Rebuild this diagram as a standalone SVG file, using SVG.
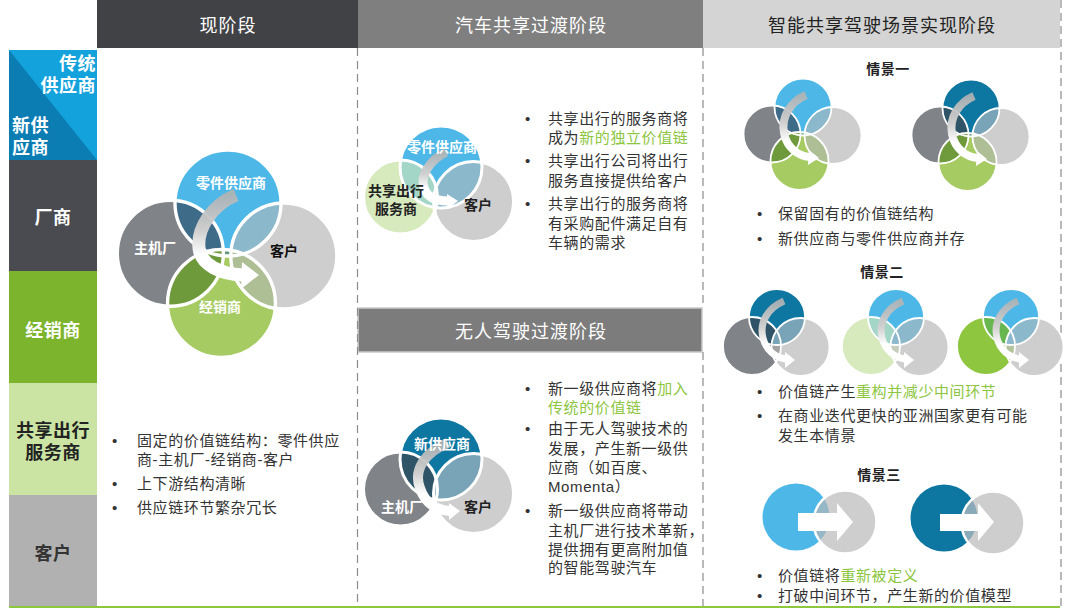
<svg xmlns="http://www.w3.org/2000/svg" width="1080" height="615" viewBox="0 0 1080 615">
<style>
text{font-family:'Liberation Sans','Noto Sans CJK SC',sans-serif;}
.hd{font-size:18px;letter-spacing:1px;text-anchor:middle;}
.lc{font-size:18px;font-weight:bold;letter-spacing:0.5px;}
.mid{text-anchor:middle;}
.bl{font-size:15px;letter-spacing:0.6px;fill:#333;}
.hl{fill:#8dc63f;}
.vl{font-size:14px;font-weight:bold;text-anchor:middle;}
.sc{font-size:14px;font-weight:bold;text-anchor:middle;fill:#222;letter-spacing:0.5px;}
.dash{stroke:#8c8c8c;stroke-width:1.2;stroke-dasharray:8 5;fill:none;}
.ring{fill:none;stroke:#fff;stroke-width:1.8;}
.ring3{fill:none;stroke:#fff;stroke-width:3;}
.arw{fill:none;stroke:url(#ag);}
.ah{fill:#fff;}
.cB{fill:#4db8e8}.cN{fill:#0d76a1}.cA{fill:#808388}.cC{fill:#cecece}.cD{fill:#a7cb63}.cG{fill:#d7eabd}.cE{fill:#8ec640}
</style>
<defs>
<linearGradient id="ag" x1="0" y1="0" x2="0" y2="1">
<stop offset="0" stop-color="#b3b3b3" stop-opacity="0.9"/>
<stop offset="0.45" stop-color="#d0d0d0"/>
<stop offset="0.75" stop-color="#ffffff"/>
<stop offset="1" stop-color="#ffffff"/>
</linearGradient>
<clipPath id="k_qT"><circle cx="0" cy="0" r="28.5"/></clipPath>
<clipPath id="k_qL"><circle cx="-31" cy="27" r="28.5"/></clipPath>
<clipPath id="k_qR"><circle cx="30" cy="28.5" r="28.5"/></clipPath>
<clipPath id="k_tT"><circle cx="0" cy="0" r="41"/></clipPath>
<clipPath id="k_tL"><circle cx="-40.5" cy="30" r="37"/></clipPath>
<clipPath id="k_sT"><circle cx="0" cy="0" r="28"/></clipPath>
<clipPath id="k_sL"><circle cx="-25" cy="29" r="29"/></clipPath>
<clipPath id="k_pL"><circle cx="0" cy="0" r="33.5"/></clipPath>
</defs>

<rect width="1080" height="615" fill="#fff"/>

<!-- headers -->
<g id="header-now">
<rect x="97" y="0" width="261" height="48" fill="#414246"/>
<text class="hd" x="228" y="32" fill="#fff">现阶段</text>
</g>
<g id="header-sharing">
<rect x="358" y="0" width="345" height="48" fill="#7f7f7f"/>
<text class="hd" x="531" y="32" fill="#fff">汽车共享过渡阶段</text>
</g>
<g id="header-smart">
<rect x="703" y="0" width="357" height="48" fill="#d4d4d4"/>
<text class="hd" x="882" y="32" fill="#222">智能共享驾驶场景实现阶段</text>
</g>

<!-- left column -->
<g id="row-supplier">
<rect x="9" y="50" width="88" height="110" fill="#14a2dc"/>
<polygon points="9,50 97,160 9,160" fill="#0b7db3"/>
<text class="lc" x="96" y="70" text-anchor="end" fill="#fff">传统</text>
<text class="lc" x="96" y="92" text-anchor="end" fill="#fff">供应商</text>
<text class="lc" x="12" y="132" fill="#fff">新供</text>
<text class="lc" x="12" y="154" fill="#fff">应商</text>
</g>
<g id="row-oem">
<rect x="9" y="160" width="88" height="111" fill="#4a4b50"/>
<text class="lc mid" x="53" y="224" fill="#fff">厂商</text>
</g>
<g id="row-dealer">
<rect x="9" y="271" width="88" height="112" fill="#7cb42e"/>
<text class="lc mid" x="53" y="337" fill="#fff">经销商</text>
</g>
<g id="row-mobility">
<rect x="9" y="383" width="88" height="112" fill="#cbe4a3"/>
<text class="lc mid" x="53" y="437" fill="#222">共享出行</text>
<text class="lc mid" x="53" y="459" fill="#222">服务商</text>
</g>
<g id="row-customer">
<rect x="9" y="495" width="88" height="111" fill="#b1b1b1"/>
<text class="lc mid" x="53" y="560" fill="#333">客户</text>
</g>

<!-- header for autonomous stage -->
<g id="header-autonomous">
<rect x="358" y="308" width="344" height="44" fill="#7c7c7c" stroke="#c9c9c9" stroke-width="1.5"/>
<text class="hd" x="531" y="338" fill="#fff">无人驾驶过渡阶段</text>
</g>

<!-- dividers -->
<g id="dividers">
<line class="dash" x1="357.5" y1="48" x2="357.5" y2="606"/>
<line class="dash" x1="703" y1="48" x2="703" y2="308"/>
<line class="dash" x1="703" y1="352" x2="703" y2="606"/>
<line class="dash" x1="1061" y1="0" x2="1061" y2="606"/>
<line x1="9" y1="607" x2="1060" y2="607" stroke="#8dc63f" stroke-width="2"/>
</g>

<!-- Venn: current stage -->
<g id="venn-now" transform="translate(228,203) scale(1.86)">
<circle class="cA" cx="-31" cy="27" r="28.5"/>
<circle class="cB" cx="0" cy="0" r="28.5"/>
<circle class="cC" cx="30" cy="28.5" r="28.5"/>
<circle class="cD" cx="-3.5" cy="54" r="29"/>
<circle cx="-31" cy="27" r="28.5" fill="#3e6b87" clip-path="url(#k_qT)"/>
<circle cx="30" cy="28.5" r="28.5" fill="#8cb8cc" clip-path="url(#k_qT)"/>
<circle cx="-3.5" cy="54" r="29" fill="#5e9a7a" clip-path="url(#k_qT)"/>
<circle cx="-3.5" cy="54" r="29" fill="#6f9a3c" clip-path="url(#k_qL)"/>
<circle cx="-3.5" cy="54" r="29" fill="#aebf95" clip-path="url(#k_qR)"/>
<circle class="ring" cx="-31" cy="27" r="28.5"/>
<circle class="ring" cx="0" cy="0" r="28.5"/>
<circle class="ring" cx="30" cy="28.5" r="28.5"/>
<circle class="ring" cx="-3.5" cy="54" r="29"/>
</g>

<!-- Venn: car sharing -->
<g id="venn-sharing" transform="translate(441,167)">
<circle class="cG" cx="-40.5" cy="30" r="37"/>
<circle class="cB" cx="0" cy="0" r="41"/>
<circle class="cC" cx="32.5" cy="34.5" r="40"/>
<circle cx="-40.5" cy="30" r="37" fill="#a3d6c6" clip-path="url(#k_tT)"/>
<circle cx="32.5" cy="34.5" r="40" fill="#c5cdbd" clip-path="url(#k_tL)"/>
<circle cx="32.5" cy="34.5" r="40" fill="#8cb8cc" clip-path="url(#k_tT)"/>
<circle class="ring3" cx="-40.5" cy="30" r="37"/>
<circle class="ring3" cx="0" cy="0" r="41"/>
<circle class="ring3" cx="32.5" cy="34.5" r="40"/>
</g>

<!-- Venn: autonomous -->
<g id="venn-autonomous" transform="translate(441,459)">
<circle class="cA" cx="-40.5" cy="30" r="37"/>
<circle class="cN" cx="0" cy="0" r="41"/>
<circle class="cC" cx="32.5" cy="34.5" r="40"/>
<circle cx="-40.5" cy="30" r="37" fill="#2f5467" clip-path="url(#k_tT)"/>
<circle cx="32.5" cy="34.5" r="40" fill="#a2a3a5" clip-path="url(#k_tL)"/>
<circle cx="32.5" cy="34.5" r="40" fill="#79a4b7" clip-path="url(#k_tT)"/>
<circle class="ring3" cx="-40.5" cy="30" r="37"/>
<circle class="ring3" cx="0" cy="0" r="41"/>
<circle class="ring3" cx="32.5" cy="34.5" r="40"/>
</g>

<!-- Scenario 1 -->
<g id="venn-s1a" transform="translate(803,107)">
<circle class="cA" cx="-31" cy="27" r="28.5"/>
<circle class="cB" cx="0" cy="0" r="28.5"/>
<circle class="cC" cx="30" cy="28.5" r="28.5"/>
<circle class="cD" cx="-3.5" cy="54" r="29"/>
<circle cx="-31" cy="27" r="28.5" fill="#3e6b87" clip-path="url(#k_qT)"/>
<circle cx="30" cy="28.5" r="28.5" fill="#8cb8cc" clip-path="url(#k_qT)"/>
<circle cx="-3.5" cy="54" r="29" fill="#5e9a7a" clip-path="url(#k_qT)"/>
<circle cx="-3.5" cy="54" r="29" fill="#6f9a3c" clip-path="url(#k_qL)"/>
<circle cx="-3.5" cy="54" r="29" fill="#aebf95" clip-path="url(#k_qR)"/>
<circle class="ring" cx="-31" cy="27" r="28.5"/>
<circle class="ring" cx="0" cy="0" r="28.5"/>
<circle class="ring" cx="30" cy="28.5" r="28.5"/>
<circle class="ring" cx="-3.5" cy="54" r="29"/>
</g>
<g id="venn-s1b" transform="translate(971,108)">
<circle class="cA" cx="-31" cy="27" r="28.5"/>
<circle class="cN" cx="0" cy="0" r="28.5"/>
<circle class="cC" cx="30" cy="28.5" r="28.5"/>
<circle class="cD" cx="-3.5" cy="54" r="29"/>
<circle cx="-31" cy="27" r="28.5" fill="#2f5467" clip-path="url(#k_qT)"/>
<circle cx="30" cy="28.5" r="28.5" fill="#79a4b7" clip-path="url(#k_qT)"/>
<circle cx="-3.5" cy="54" r="29" fill="#3f7f6a" clip-path="url(#k_qT)"/>
<circle cx="-3.5" cy="54" r="29" fill="#6f9a3c" clip-path="url(#k_qL)"/>
<circle cx="-3.5" cy="54" r="29" fill="#aebf95" clip-path="url(#k_qR)"/>
<circle class="ring" cx="-31" cy="27" r="28.5"/>
<circle class="ring" cx="0" cy="0" r="28.5"/>
<circle class="ring" cx="30" cy="28.5" r="28.5"/>
<circle class="ring" cx="-3.5" cy="54" r="29"/>
</g>

<!-- Scenario 2 -->
<g id="venn-s2a" transform="translate(777,317)">
<circle class="cA" cx="-25" cy="29" r="29"/>
<circle class="cN" cx="0" cy="0" r="28"/>
<circle class="cC" cx="23.5" cy="30" r="29"/>
<circle cx="-25" cy="29" r="29" fill="#2f5467" clip-path="url(#k_sT)"/>
<circle cx="23.5" cy="30" r="29" fill="#a2a3a5" clip-path="url(#k_sL)"/>
<circle cx="23.5" cy="30" r="29" fill="#79a4b7" clip-path="url(#k_sT)"/>
<circle class="ring" cx="-25" cy="29" r="29"/>
<circle class="ring" cx="0" cy="0" r="28"/>
<circle class="ring" cx="23.5" cy="30" r="29"/>
</g>
<g id="venn-s2b" transform="translate(896,317)">
<circle class="cG" cx="-25" cy="29" r="29"/>
<circle class="cB" cx="0" cy="0" r="28"/>
<circle class="cC" cx="23.5" cy="30" r="29"/>
<circle cx="-25" cy="29" r="29" fill="#a3d6c6" clip-path="url(#k_sT)"/>
<circle cx="23.5" cy="30" r="29" fill="#c5cdbd" clip-path="url(#k_sL)"/>
<circle cx="23.5" cy="30" r="29" fill="#8cb8cc" clip-path="url(#k_sT)"/>
<circle class="ring" cx="-25" cy="29" r="29"/>
<circle class="ring" cx="0" cy="0" r="28"/>
<circle class="ring" cx="23.5" cy="30" r="29"/>
</g>
<g id="venn-s2c" transform="translate(1011,317)">
<circle class="cE" cx="-25" cy="29" r="29"/>
<circle class="cB" cx="0" cy="0" r="28"/>
<circle class="cC" cx="23.5" cy="30" r="29"/>
<circle cx="-25" cy="29" r="29" fill="#67b64f" clip-path="url(#k_sT)"/>
<circle cx="23.5" cy="30" r="29" fill="#b3c49c" clip-path="url(#k_sL)"/>
<circle cx="23.5" cy="30" r="29" fill="#8cb8cc" clip-path="url(#k_sT)"/>
<circle class="ring" cx="-25" cy="29" r="29"/>
<circle class="ring" cx="0" cy="0" r="28"/>
<circle class="ring" cx="23.5" cy="30" r="29"/>
</g>

<!-- Scenario 3 -->
<g id="pair-s3a" transform="translate(796,517)">
<circle class="cB" cx="0" cy="0" r="33.5"/>
<circle class="cC" cx="49" cy="5" r="31.5"/>
<circle cx="49" cy="5" r="31.5" fill="#96b7c6" clip-path="url(#k_pL)"/>
<circle cx="49" cy="5" r="31.5" fill="none" stroke="#fff" stroke-width="2.5"/>
</g>
<g id="pair-s3b" transform="translate(944,518)">
<circle class="cN" cx="0" cy="0" r="33.5"/>
<circle class="cC" cx="49" cy="5" r="31.5"/>
<circle cx="49" cy="5" r="31.5" fill="#8aaab9" clip-path="url(#k_pL)"/>
<circle cx="49" cy="5" r="31.5" fill="none" stroke="#fff" stroke-width="2.5"/>
</g>

<!-- connectors (value-chain arrows) -->
<g id="connectors">
<path class="arw" stroke-width="13" d="M236,195 C212,205 197,228 199,248 C201,265 220,274 243,275"/>
<polygon class="ah" points="242,262 259,275 241,289"/>
<path class="arw" stroke-width="9" d="M446,152 C430,160 420,175 424,188 C427,197 436,201 448,201"/>
<polygon class="ah" points="447,194 458,201 447,209"/>
<path class="arw" stroke-width="10" d="M448,443 C425,452 413,470 420,488 C425,503 436,510 450,511"/>
<polygon class="ah" points="449,503 460,511 449,520"/>
<g transform="translate(803,107)">
<path class="arw" stroke-width="8" d="M3,-12 C-13,-5 -22,10 -19,26 C-16,41 -5,49 7,50"/>
<polygon class="ah" points="6,43 16,51 5,58"/>
</g>
<g transform="translate(971,108)">
<path class="arw" stroke-width="8" d="M3,-12 C-13,-5 -22,10 -19,26 C-16,41 -5,49 7,50"/>
<polygon class="ah" points="6,43 16,51 5,58"/>
</g>
<g transform="translate(777,317)">
<path class="arw" stroke-width="7" d="M7,-16 C-9,-9 -18,5 -14,21 C-11,33 -2,40 9,42"/>
<polygon class="ah" points="8,35 18,43 8,51"/>
</g>
<g transform="translate(896,317)">
<path class="arw" stroke-width="7" d="M7,-16 C-9,-9 -18,5 -14,21 C-11,33 -2,40 9,42"/>
<polygon class="ah" points="8,35 18,43 8,51"/>
</g>
<g transform="translate(1011,317)">
<path class="arw" stroke-width="7" d="M7,-16 C-9,-9 -18,5 -14,21 C-11,33 -2,40 9,42"/>
<polygon class="ah" points="8,35 18,43 8,51"/>
</g>
<polygon class="ah" points="798,513 837,513 837,503 853,522 837,541 837,531 798,531"/>
<polygon class="ah" points="940,514 978,514 978,503 994,522 978,541 978,531 940,531"/>
</g>

<!-- Venn labels -->
<g id="labels-now">
<text class="vl" x="231" y="188" fill="#fff">零件供应商</text>
<text class="vl" x="155" y="253" fill="#fff">主机厂</text>
<text class="vl" x="284" y="256" fill="#111">客户</text>
<text class="vl" x="220" y="312" fill="#fff">经销商</text>
</g>
<g id="labels-sharing">
<text class="vl" x="442" y="152" fill="#fff">零件供应商</text>
<text class="vl" x="396" y="196" fill="#222">共享出行</text>
<text class="vl" x="396" y="214" fill="#222">服务商</text>
<text class="vl" x="478" y="210" fill="#222">客户</text>
</g>
<g id="labels-autonomous">
<text class="vl" x="442" y="449" fill="#fff">新供应商</text>
<text class="vl" x="402" y="512" fill="#fff">主机厂</text>
<text class="vl" x="478" y="512" fill="#222">客户</text>
</g>

<!-- bullets: current stage -->
<g id="notes-now">
<text class="bl" x="112" y="446">•</text>
<text class="bl" x="137" y="446">固定的价值链结构：零件供应</text>
<text class="bl" x="137" y="465">商-主机厂-经销商-客户</text>
<text class="bl" x="112" y="489">•</text>
<text class="bl" x="137" y="489">上下游结构清晰</text>
<text class="bl" x="112" y="513">•</text>
<text class="bl" x="137" y="513">供应链环节繁杂冗长</text>
</g>

<!-- bullets: car sharing -->
<g id="notes-sharing">
<text class="bl" x="525" y="124">•</text>
<text class="bl" x="548" y="124">共享出行的服务商将</text>
<text class="bl" x="548" y="143">成为<tspan class="hl">新的独立价值链</tspan></text>
<text class="bl" x="525" y="166">•</text>
<text class="bl" x="548" y="166">共享出行公司将出行</text>
<text class="bl" x="548" y="186">服务直接提供给客户</text>
<text class="bl" x="525" y="209">•</text>
<text class="bl" x="548" y="209">共享出行的服务商将</text>
<text class="bl" x="548" y="229">有采购配件满足自有</text>
<text class="bl" x="548" y="248">车辆的需求</text>
</g>

<!-- bullets: autonomous -->
<g id="notes-autonomous">
<text class="bl" x="525" y="394">•</text>
<text class="bl" x="548" y="394">新一级供应商将<tspan class="hl">加入</tspan></text>
<text class="bl hl" x="548" y="413">传统的价值链</text>
<text class="bl" x="525" y="434">•</text>
<text class="bl" x="548" y="434">由于无人驾驶技术的</text>
<text class="bl" x="548" y="454">发展，产生新一级供</text>
<text class="bl" x="548" y="473">应商（如百度、</text>
<text class="bl" x="548" y="492">Momenta）</text>
<text class="bl" x="525" y="516">•</text>
<text class="bl" x="548" y="516">新一级供应商将带动</text>
<text class="bl" x="548" y="536">主机厂进行技术革新，</text>
<text class="bl" x="548" y="555">提供拥有更高附加值</text>
<text class="bl" x="548" y="573">的智能驾驶汽车</text>
</g>

<!-- scenarios -->
<g id="scenario-1">
<text class="sc" x="888" y="74">情景一</text>
<text class="bl" x="757" y="219">•</text>
<text class="bl" x="778" y="219">保留固有的价值链结构</text>
<text class="bl" x="757" y="244">•</text>
<text class="bl" x="778" y="244">新供应商与零件供应商并存</text>
</g>
<g id="scenario-2">
<text class="sc" x="882" y="277">情景二</text>
<text class="bl" x="757" y="397">•</text>
<text class="bl" x="778" y="397">价值链产生<tspan class="hl">重构并减少中间环节</tspan></text>
<text class="bl" x="757" y="421">•</text>
<text class="bl" x="778" y="421">在商业迭代更快的亚洲国家更有可能</text>
<text class="bl" x="778" y="441">发生本情景</text>
</g>
<g id="scenario-3">
<text class="sc" x="879" y="480">情景三</text>
<text class="bl" x="757" y="581">•</text>
<text class="bl" x="778" y="581">价值链将<tspan class="hl">重新被定义</tspan></text>
<text class="bl" x="757" y="601">•</text>
<text class="bl" x="778" y="601">打破中间环节，产生新的价值模型</text>
</g>
</svg>
